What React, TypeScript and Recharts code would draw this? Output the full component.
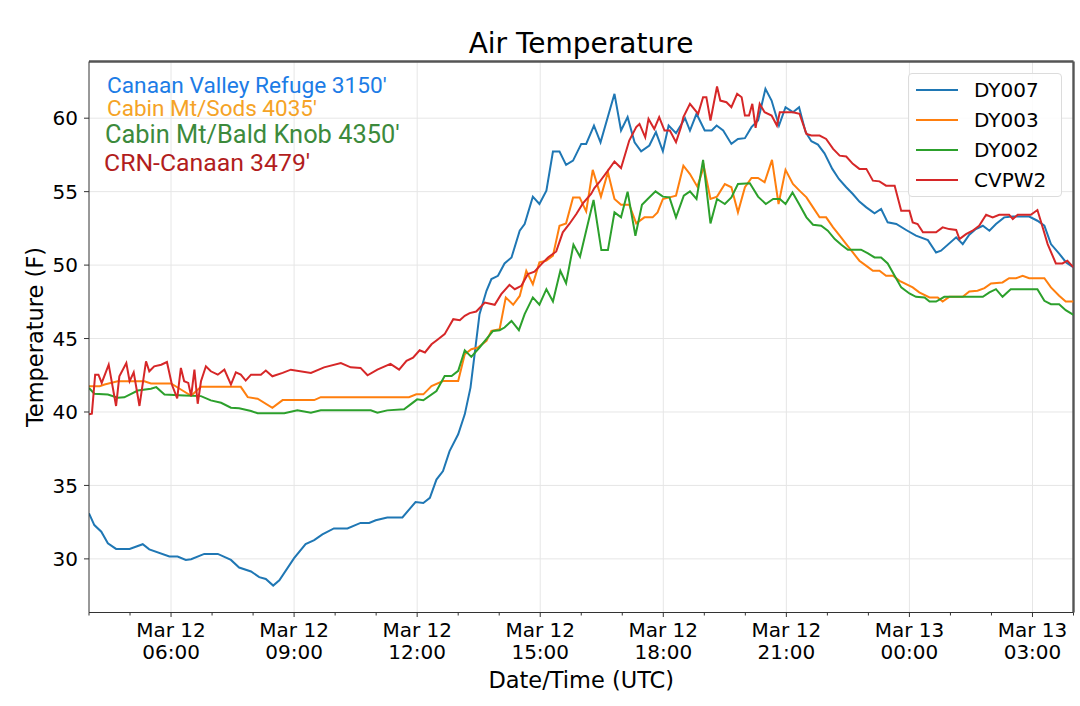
import {
  LineChart,
  Line,
  XAxis,
  YAxis,
  CartesianGrid,
  ReferenceLine,
  Legend,
} from 'recharts';

// [hour since Mar 12 00:00 UTC, temperature °F]
type Pt = [number, number];

const dy007: Pt[] = [
  [4.0, 33.1], [4.13, 32.3], [4.3, 31.85], [4.46, 31.06], [4.66, 30.68], [4.99, 30.68],
  [5.31, 31.0], [5.47, 30.65], [5.96, 30.16], [6.16, 30.16], [6.36, 29.93], [6.49, 29.98],
  [6.81, 30.34], [7.14, 30.34], [7.46, 29.93], [7.66, 29.41], [7.95, 29.14], [8.15, 28.76],
  [8.31, 28.63], [8.49, 28.18], [8.64, 28.54], [9.0, 30.05], [9.28, 31.01], [9.49, 31.28],
  [9.69, 31.67], [9.97, 32.07], [10.3, 32.07], [10.62, 32.45], [10.83, 32.45], [10.99, 32.63],
  [11.27, 32.82], [11.64, 32.82], [11.96, 33.87], [12.15, 33.8], [12.31, 34.16], [12.47, 35.4],
  [12.63, 35.98], [12.79, 37.34], [13.0, 38.48], [13.16, 39.84], [13.3, 41.66], [13.4, 43.93],
  [13.52, 46.66], [13.69, 48.25], [13.81, 49.05], [13.97, 49.27], [14.13, 50.11], [14.3, 50.52],
  [14.5, 52.34], [14.62, 52.8], [14.82, 54.66], [14.98, 54.16], [15.15, 55.07], [15.31, 57.73],
  [15.47, 57.73], [15.63, 56.82], [15.8, 57.11], [16.0, 58.25], [16.12, 58.25], [16.31, 59.5],
  [16.47, 58.36], [16.81, 61.66], [16.97, 59.16], [17.13, 60.07], [17.3, 58.36], [17.46, 57.75],
  [17.66, 58.14], [17.82, 59.05], [17.99, 57.75], [18.13, 59.5], [18.31, 58.98], [18.53, 60.0],
  [18.65, 59.16], [18.81, 60.3], [19.01, 59.16], [19.18, 59.16], [19.3, 59.5], [19.46, 59.16],
  [19.66, 58.25], [19.82, 58.59], [19.99, 58.64], [20.15, 59.39], [20.31, 59.84], [20.49, 62.0],
  [20.64, 61.2], [20.82, 59.5], [20.98, 60.75], [21.16, 60.41], [21.31, 60.75], [21.47, 59.05],
  [21.61, 58.43], [21.77, 58.2], [21.93, 57.61], [22.12, 56.55], [22.28, 55.86], [22.46, 55.3],
  [22.62, 54.84], [22.78, 54.32], [22.95, 53.93], [23.15, 53.52], [23.31, 53.82], [23.47, 52.91],
  [23.68, 52.8], [23.92, 52.39], [24.16, 52.0], [24.45, 51.7], [24.65, 50.86], [24.77, 50.98],
  [25.14, 51.89], [25.3, 51.43], [25.46, 52.07], [25.62, 52.45], [25.79, 52.68], [25.95, 52.34],
  [26.11, 52.8], [26.31, 53.25], [26.52, 53.3], [26.92, 53.3], [27.12, 53.02], [27.29, 52.68],
  [27.45, 51.43], [27.66, 50.75], [27.82, 50.18], [28.0, 49.84],
];

const dy003: Pt[] = [
  [4.0, 41.76], [4.26, 41.76], [4.38, 41.87], [4.7, 42.09], [5.35, 42.09], [5.51, 41.94],
  [6.0, 41.94], [6.24, 41.53], [6.49, 41.1], [6.73, 41.71], [7.7, 41.71], [7.87, 41.01],
  [8.11, 40.9], [8.47, 40.29], [8.72, 40.81], [9.49, 40.81], [9.65, 41.01], [11.8, 41.01],
  [11.98, 41.2], [12.15, 41.2], [12.35, 41.77], [12.63, 42.11], [13.0, 42.11], [13.16, 43.93],
  [13.32, 44.27], [13.48, 44.39], [13.69, 44.84], [13.81, 45.52], [14.01, 45.64], [14.16, 47.8],
  [14.34, 47.3], [14.5, 47.9], [14.66, 49.61], [14.82, 48.7], [14.98, 50.18], [15.15, 50.3],
  [15.31, 50.64], [15.47, 52.68], [15.63, 52.84], [15.8, 54.61], [15.96, 54.61], [16.12, 53.66],
  [16.28, 56.48], [16.48, 54.66], [16.65, 56.32], [16.81, 54.5], [16.97, 54.11], [17.17, 54.11],
  [17.34, 52.84], [17.54, 53.25], [17.74, 53.25], [17.86, 53.59], [17.99, 54.5], [18.15, 54.61],
  [18.31, 54.73], [18.49, 56.77], [18.65, 56.2], [18.83, 55.34], [18.99, 56.7], [19.15, 54.5],
  [19.31, 54.66], [19.5, 55.52], [19.66, 55.3], [19.82, 53.59], [19.99, 55.3], [20.15, 55.93],
  [20.31, 55.93], [20.47, 55.64], [20.65, 57.16], [20.81, 54.16], [20.98, 56.48], [21.16, 55.52],
  [21.32, 55.07], [21.49, 54.61], [21.65, 53.93], [21.81, 53.25], [21.97, 53.25], [22.14, 52.57],
  [22.3, 52.0], [22.46, 51.43], [22.62, 50.86], [22.78, 50.3], [22.95, 49.95], [23.11, 49.61],
  [23.27, 49.61], [23.43, 49.27], [23.6, 49.27], [23.76, 48.93], [23.92, 48.7], [24.08, 48.48],
  [24.24, 48.14], [24.49, 47.8], [24.69, 47.8], [24.81, 47.52], [24.97, 47.84], [25.3, 47.84],
  [25.46, 48.2], [25.66, 48.25], [25.83, 48.43], [25.99, 48.75], [26.27, 48.82], [26.43, 49.11],
  [26.6, 49.11], [26.76, 49.27], [26.92, 49.11], [27.29, 49.11], [27.45, 48.48], [27.65, 47.91],
  [27.81, 47.52], [28.0, 47.52],
];

const dy002: Pt[] = [
  [4.0, 41.64], [4.13, 41.24], [4.46, 41.19], [4.7, 40.97], [4.86, 41.0], [5.19, 41.46],
  [5.51, 41.58], [5.64, 41.69], [5.84, 41.19], [6.32, 41.13], [6.73, 41.08], [6.97, 40.79],
  [7.22, 40.63], [7.46, 40.29], [7.66, 40.25], [7.95, 40.07], [8.11, 39.91], [8.76, 39.91],
  [9.08, 40.11], [9.41, 39.95], [9.65, 40.11], [10.87, 40.11], [11.03, 39.95], [11.27, 40.11],
  [11.68, 40.18], [11.84, 40.52], [12.0, 40.86], [12.15, 40.8], [12.47, 41.43], [12.67, 42.45],
  [12.84, 42.45], [13.0, 42.8], [13.16, 44.2], [13.32, 43.75], [13.52, 44.39], [13.85, 45.52],
  [14.01, 45.57], [14.13, 45.75], [14.3, 46.2], [14.48, 45.57], [14.62, 46.66], [14.82, 47.8],
  [14.98, 47.3], [15.15, 48.36], [15.31, 47.52], [15.49, 49.61], [15.63, 48.77], [15.81, 51.39],
  [15.97, 50.57], [16.12, 52.34], [16.3, 54.43], [16.49, 51.02], [16.65, 51.02], [16.81, 53.59],
  [16.97, 53.25], [17.13, 55.0], [17.32, 52.0], [17.48, 54.11], [17.62, 54.5], [17.81, 55.02],
  [17.99, 54.66], [18.15, 54.61], [18.31, 53.25], [18.5, 54.73], [18.65, 55.02], [18.81, 54.5],
  [18.97, 57.16], [19.15, 52.84], [19.31, 54.5], [19.5, 54.16], [19.66, 54.61], [19.82, 55.52],
  [20.11, 55.57], [20.31, 54.66], [20.5, 54.16], [20.68, 54.5], [20.84, 54.5], [20.98, 54.16],
  [21.15, 54.95], [21.31, 54.16], [21.49, 53.25], [21.65, 52.75], [21.85, 52.68], [22.01, 52.34],
  [22.18, 51.77], [22.34, 51.39], [22.5, 51.05], [22.82, 51.05], [22.99, 50.8], [23.15, 50.52],
  [23.31, 50.52], [23.47, 50.11], [23.64, 49.27], [23.8, 48.48], [24.0, 48.07], [24.16, 47.84],
  [24.37, 47.8], [24.49, 47.52], [24.65, 47.52], [24.85, 47.84], [25.79, 47.84], [25.95, 48.14],
  [26.11, 48.36], [26.27, 47.84], [26.47, 48.36], [27.12, 48.36], [27.29, 47.57], [27.45, 47.34],
  [27.65, 47.34], [27.81, 46.93], [28.0, 46.61],
];

const cvpw2: Pt[] = [
  [4.0, 39.84], [4.07, 39.89], [4.15, 42.54], [4.23, 42.54], [4.31, 41.98], [4.48, 43.22],
  [4.66, 40.41], [4.74, 42.43], [4.91, 43.33], [4.99, 42.09], [5.09, 42.7], [5.23, 40.41],
  [5.39, 43.45], [5.47, 42.77], [5.59, 43.11], [5.76, 43.22], [5.9, 43.4], [6.02, 41.87],
  [6.15, 40.92], [6.24, 43.0], [6.32, 42.09], [6.42, 41.98], [6.49, 41.08], [6.57, 42.88],
  [6.65, 40.56], [6.73, 42.09], [6.85, 43.11], [6.97, 42.77], [7.14, 42.54], [7.3, 42.88],
  [7.46, 41.87], [7.58, 42.7], [7.7, 42.54], [7.82, 42.14], [7.95, 42.54], [8.19, 42.54],
  [8.31, 42.82], [8.47, 42.43], [8.72, 42.66], [8.92, 42.88], [9.41, 42.66], [9.73, 43.04],
  [10.14, 43.33], [10.38, 43.04], [10.62, 43.0], [10.79, 42.5], [11.03, 42.88], [11.35, 43.27],
  [11.56, 42.88], [11.74, 43.48], [11.9, 43.7], [12.06, 44.2], [12.19, 44.05], [12.35, 44.61],
  [12.51, 44.95], [12.67, 45.3], [12.88, 46.32], [13.04, 46.25], [13.16, 46.55], [13.28, 46.73],
  [13.44, 46.84], [13.65, 47.45], [13.89, 47.3], [14.05, 48.02], [14.25, 48.66], [14.38, 48.36],
  [14.54, 48.59], [14.7, 49.39], [14.86, 49.55], [15.03, 50.07], [15.19, 50.52], [15.39, 50.93],
  [15.55, 52.23], [15.71, 52.8], [15.88, 53.48], [16.04, 54.2], [16.24, 54.84], [16.32, 55.25],
  [16.44, 55.64], [16.65, 56.43], [16.81, 57.05], [16.97, 56.61], [17.17, 58.48], [17.34, 59.39],
  [17.42, 59.61], [17.56, 58.7], [17.64, 59.95], [17.78, 59.27], [17.9, 60.07], [18.03, 59.16],
  [18.16, 59.16], [18.31, 58.36], [18.43, 59.39], [18.49, 60.07], [18.65, 60.98], [18.85, 60.3],
  [18.97, 61.43], [19.05, 61.43], [19.15, 59.84], [19.31, 62.16], [19.39, 61.2], [19.54, 61.09],
  [19.66, 60.75], [19.8, 61.66], [19.91, 61.43], [19.99, 60.18], [20.09, 60.18], [20.17, 60.98],
  [20.25, 59.34], [20.35, 60.98], [20.47, 60.41], [20.64, 60.18], [20.77, 59.5], [20.84, 60.41],
  [21.16, 60.41], [21.32, 60.3], [21.49, 58.93], [21.61, 58.82], [21.81, 58.82], [21.97, 58.59],
  [22.14, 57.91], [22.3, 57.45], [22.46, 57.39], [22.62, 56.89], [22.78, 56.55], [22.95, 56.55],
  [23.11, 55.75], [23.27, 55.7], [23.43, 55.41], [23.64, 55.41], [23.8, 53.7], [24.0, 53.7],
  [24.08, 52.91], [24.2, 52.8], [24.33, 52.23], [24.65, 52.23], [24.81, 52.57], [24.97, 52.45],
  [25.14, 52.39], [25.22, 51.77], [25.38, 52.11], [25.54, 52.34], [25.7, 52.68], [25.87, 53.43],
  [26.03, 53.25], [26.19, 53.43], [26.43, 53.43], [26.52, 53.14], [26.64, 53.43], [26.96, 53.43],
  [27.12, 53.75], [27.2, 53.02], [27.37, 51.43], [27.57, 50.11], [27.73, 50.11], [27.85, 50.3],
  [28.0, 49.84],
];

const seriesNames = ['DY007', 'DY003', 'DY002', 'CVPW2'];
const seriesColors = ['#1f77b4', '#ff7f0e', '#2ca02c', '#d62728'];
const seriesPoints = [dy007, dy003, dy002, cvpw2];

const stationNotes = [
  "Canaan Valley Refuge 3150'",
  "Cabin Mt/Sods 4035'",
  "Cabin Mt/Bald Knob 4350'",
  "CRN-Canaan 3479'",
];
const noteColors = ['#1c7ce6', '#f5a326', '#3c8a3c', '#b21d1d'];

const hourTicks = [4, 5, 6, 7, 8, 9, 10, 11, 12, 13, 14, 15, 16, 17, 18, 19, 20, 21, 22, 23, 24, 25, 26, 27, 28];
const majorHours = [6, 9, 12, 15, 18, 21, 24, 27];
const dateLabels = ['Mar 12', 'Mar 12', 'Mar 12', 'Mar 12', 'Mar 12', 'Mar 12', 'Mar 13', 'Mar 13'];
const timeLabels = ['06:00', '09:00', '12:00', '15:00', '18:00', '21:00', '00:00', '03:00'];
const tempTicks = [30, 35, 40, 45, 50, 55, 60];
const X_DOMAIN = [4, 28];
const Y_DOMAIN = [26.35, 63.86];

const FONT = '"DejaVu Sans", sans-serif';
const GRID = '#e6e6e6';
const AXIS = '#333';

function HourTick(props: any) {
  const { x, y, payload } = props;
  const idx = majorHours.indexOf(payload.value);
  const major = idx >= 0;
  return (
    <g>
      <line x1={x} x2={x} y1={y} y2={y + (major ? 4.5 : 3)} stroke={AXIS} strokeWidth={1} />
      {major && (
        <text x={x} y={y} textAnchor="middle" fontFamily={FONT} fontSize={20} fill="#000">
          <tspan x={x} dy={24.3}>{dateLabels[idx]}</tspan>
          <tspan x={x} dy={22.6}>{timeLabels[idx]}</tspan>
        </text>
      )}
    </g>
  );
}

function LegendBox({ payload }: any) {
  const items = [...(payload || [])].sort(
    (a: any, b: any) => seriesNames.indexOf(a.value) - seriesNames.indexOf(b.value),
  );
  return (
    <div
      style={{
        border: '1px solid #dcdcdc',
        borderRadius: 4,
        background: 'rgba(255,255,255,0.85)',
        boxSizing: 'border-box',
        height: 124,
        paddingTop: 1,
      }}
    >
      {items.map((p: any) => (
        <div key={p.value} style={{ display: 'flex', alignItems: 'center', height: 30 }}>
          <span
            style={{
              display: 'inline-block',
              width: 42,
              height: 0,
              borderTop: `2px solid ${p.color}`,
              marginLeft: 7,
              marginRight: 16,
            }}
          />
          <span style={{ fontFamily: FONT, fontSize: 20, color: '#000', lineHeight: '30px' }}>
            {p.value}
          </span>
        </div>
      ))}
    </div>
  );
}

export default function App() {
  return (
    <div style={{ position: 'absolute', left: 0, top: 0, width: 1080, height: 706, background: '#fff' }}>
      <LineChart width={1080} height={706} margin={{ top: 61.5, right: 6.5, bottom: 0, left: 0 }}>
        <CartesianGrid vertical={false} stroke={GRID} />
        {majorHours.map((h) => (
          <ReferenceLine key={h} x={h} stroke={GRID} />
        ))}
        {/* top and right spines (half of the stroke is clipped by the plot area) */}
        <ReferenceLine y={Y_DOMAIN[1]} stroke="#555" strokeWidth={2.4} />
        <ReferenceLine x={X_DOMAIN[1]} stroke="#555" strokeWidth={2.4} />
        <XAxis
          dataKey="t"
          type="number"
          domain={X_DOMAIN}
          allowDataOverflow
          ticks={hourTicks}
          interval={0}
          height={93.5}
          tickLine={false}
          tickSize={0}
          tickMargin={0}
          tick={<HourTick />}
          axisLine={{ stroke: AXIS }}
          label={{
            value: 'Date/Time (UTC)',
            position: 'insideBottom',
            offset: 18.3,
            style: { fontFamily: FONT, fontSize: 22.5, fill: '#000' },
          }}
        />
        <YAxis
          type="number"
          domain={Y_DOMAIN}
          allowDataOverflow
          ticks={tempTicks}
          width={89}
          tickSize={5}
          tickMargin={6}
          tickLine={{ stroke: AXIS }}
          axisLine={{ stroke: AXIS }}
          tick={{ fontFamily: FONT, fontSize: 20, fill: '#000' }}
          label={{
            value: 'Temperature (F)',
            angle: -90,
            position: 'insideLeft',
            offset: 35,
            style: { fontFamily: FONT, fontSize: 22.5, fill: '#000', textAnchor: 'middle' },
          }}
        />
        {seriesNames.map((name, i) => (
          <Line
            key={name}
            name={name}
            data={seriesPoints[i].map(([t, v]) => ({ t, v }))}
            dataKey="v"
            type="linear"
            stroke={seriesColors[i]}
            strokeWidth={2}
            dot={false}
            activeDot={false}
            isAnimationActive={false}
          />
        ))}
        <Legend
          layout="horizontal"
          verticalAlign="middle"
          align="center"
          content={<LegendBox />}
          wrapperStyle={{ position: 'absolute', left: 908, top: 73, width: 154, margin: 0 }}
        />
      </LineChart>
      <svg
        width={1080}
        height={706}
        style={{ position: 'absolute', left: 0, top: 0, pointerEvents: 'none' }}
      >
        <text x={581} y={53} textAnchor="middle" fontFamily={FONT} fontSize={28} fill="#000">
          Air Temperature
        </text>
        <text x={107} y={92.7} fontFamily="Roboto" fontSize={22.7} fill={noteColors[0]}>
          {stationNotes[0]}
        </text>
        <text x={107} y={115.5} fontFamily="Roboto" fontSize={22.5} fill={noteColors[1]}>
          {stationNotes[1]}
        </text>
        <text x={105} y={142.7} fontFamily="Roboto" fontSize={25.4} fill={noteColors[2]}>
          {stationNotes[2]}
        </text>
        <text x={104} y={170.7} fontFamily="Roboto" fontSize={24.8} fill={noteColors[3]}>
          {stationNotes[3]}
        </text>
      </svg>
    </div>
  );
}
